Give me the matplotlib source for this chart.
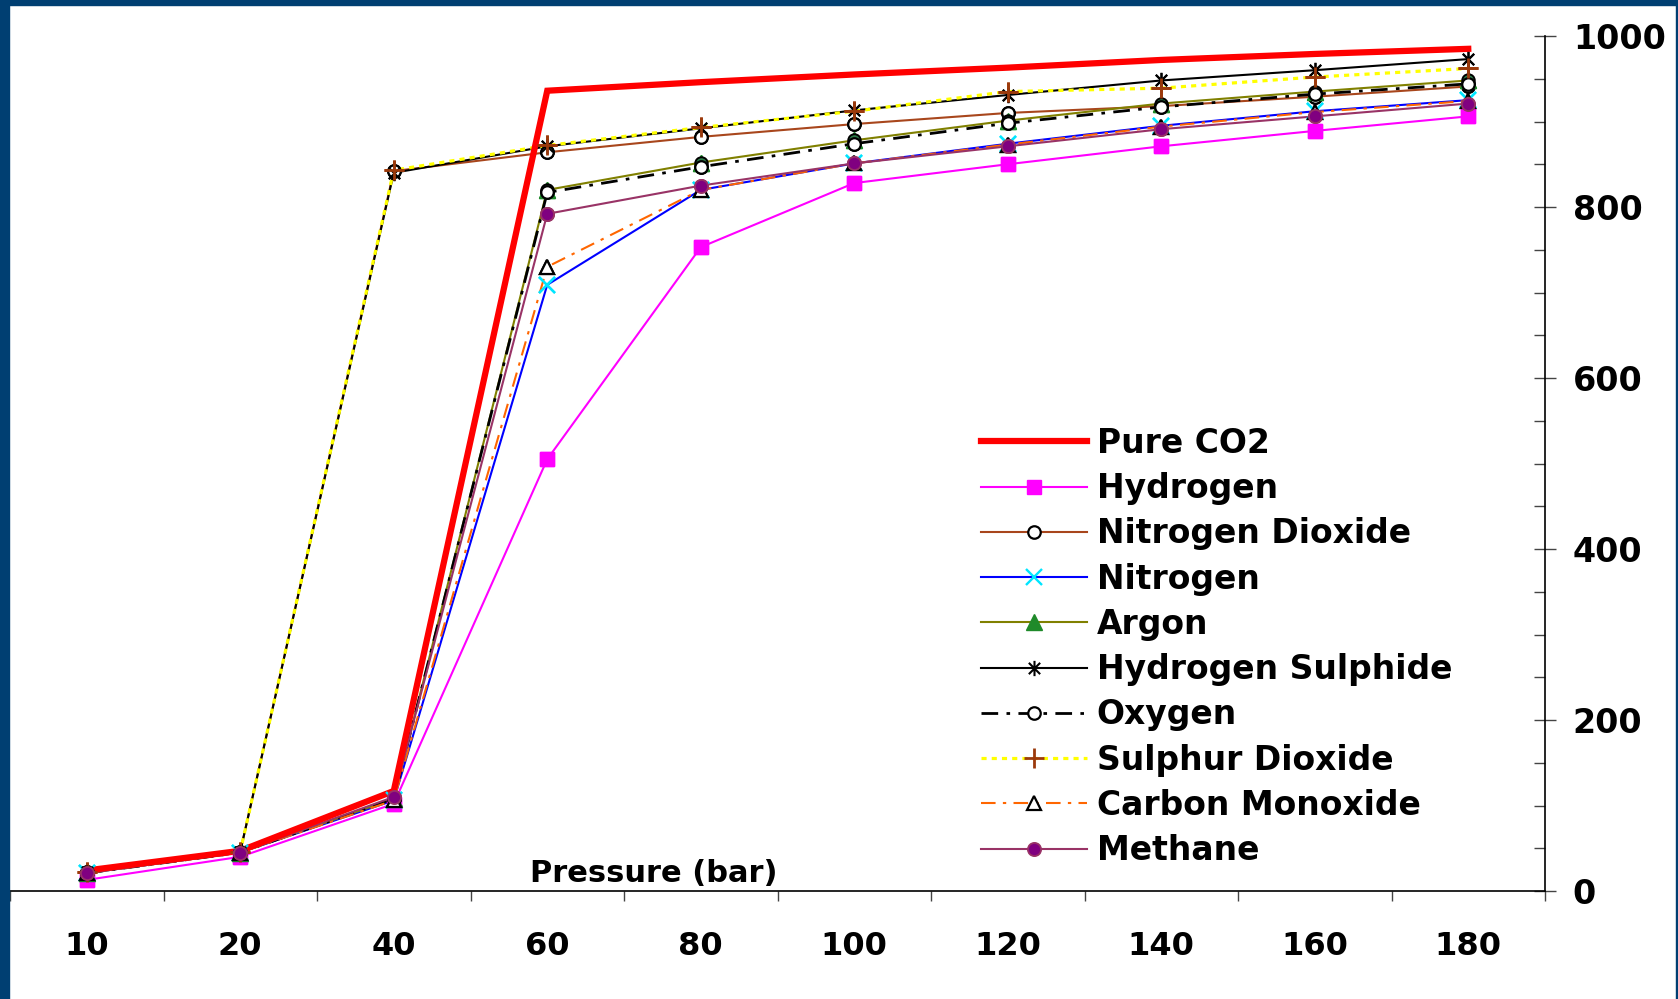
import numpy as np
import matplotlib
matplotlib.use("Agg")
import matplotlib.pyplot as plt
from matplotlib.path import Path
from matplotlib.patches import Rectangle

# ---------------- data ----------------
pressures = ["10", "20", "40", "60", "80", "100", "120", "140", "160", "180"]

pure_co2 = [24, 47, 117, 936, 946, 955, 963, 972, 979, 985]
hydrogen = [13, 40, 102, 505, 753, 828, 850, 871, 889, 906]
nitrogen_dioxide = [22, 46, 842, 864, 882, 897, 910, 918, 929, 941]
nitrogen = [21, 45, 106, 709, 820, 851, 874, 895, 912, 925]
argon = [21, 45, 108, 820, 852, 878, 901, 921, 935, 948]
hydrogen_sulphide = [22, 46, 840, 871, 892, 913, 931, 948, 960, 973]
oxygen = [21, 45, 108, 817, 847, 874, 898, 917, 932, 944]
sulphur_dioxide = [22, 46, 843, 872, 893, 912, 935, 939, 952, 962]
carbon_monoxide = [21, 45, 106, 730, 820, 851, 873, 894, 911, 924]
methane = [21, 45, 110, 792, 825, 851, 871, 891, 906, 921]

y_ticks = [0, 200, 400, 600, 800, 1000]
x_title = "Pressure (bar)"

# ---------------- figure ----------------
W, H = 1678, 999
fig = plt.figure(figsize=(W / 100, H / 100), dpi=100, facecolor="white")
FONT = "DejaVu Sans"
plt.rcParams["font.family"] = [FONT]

# dark-blue frame
blue = "#003f72"
fig.patches.append(Rectangle((0, 0), 9 / W, 1, transform=fig.transFigure, color=blue, zorder=0))
fig.patches.append(Rectangle((0, 1 - 5 / H), 1, 5 / H, transform=fig.transFigure, color=blue, zorder=0))
fig.patches.append(Rectangle((1 - 2 / W, 0), 2 / W, 1, transform=fig.transFigure, color=blue, zorder=0))

left, right = 10 / W, 1545 / W
bottom, top = 1 - 891 / H, 1 - 36 / H
ax = fig.add_axes([left, bottom, right - left, top - bottom])
ax.set_facecolor("none")

x = np.arange(len(pressures))

star = Path([(-1, -1), (1, 1), (-1, 1), (1, -1), (0, -1.35), (0, 1.35)],
            [Path.MOVETO, Path.LINETO, Path.MOVETO, Path.LINETO, Path.MOVETO, Path.LINETO])

lw = 1.5
series = [
    ("Pure CO2", pure_co2, dict(color="#ff0000", lw=4.5, marker=None)),
    ("Hydrogen", hydrogen, dict(color="#ff00ff", lw=lw, marker="s", ms=9.5, mfc="#ff00ff", mec="#ff00ff")),
    ("Nitrogen Dioxide", nitrogen_dioxide, dict(color="#a8461c", lw=lw, marker="o", ms=9, mfc="white", mec="black", mew=1.6)),
    ("Nitrogen", nitrogen, dict(color="#0000ff", lw=lw, marker="x", ms=12, mec="#00e5ff", mew=1.7)),
    ("Argon", argon, dict(color="#808000", lw=lw, marker="^", ms=11, mfc="#1f8a2a", mec="#1f8a2a")),
    ("Hydrogen Sulphide", hydrogen_sulphide, dict(color="black", lw=lw, marker=star, ms=11, mec="black", mew=1.5)),
    ("Oxygen", oxygen, dict(color="black", lw=2.0, dashes=(6, 3, 1.3, 3), marker="o", ms=9, mfc="white", mec="black", mew=1.6)),
    ("Sulphur Dioxide", sulphur_dioxide, dict(color="#ffff00", lw=2.3, dashes=(1.6, 1.6), marker="+", ms=15, mec="#9c3a0c", mew=2.0)),
    ("Carbon Monoxide", carbon_monoxide, dict(color="#ff6600", lw=lw, dashes=(7, 3.5, 1.6, 3.5), marker="^", ms=10, mfc="white", mec="black", mew=1.6)),
    ("Methane", methane, dict(color="#993366", lw=lw, marker="o", ms=9.5, mfc="#800080", mec="#993366", mew=1.3)),
]

handles = []
for name, vals, kw in series:
    z = 3 if name == "Pure CO2" else 2
    (h,) = ax.plot(x, vals, label=name, zorder=z, solid_joinstyle="miter", **kw)
    handles.append(h)
    if kw.get("marker") is not None:
        mk = {k: v for k, v in kw.items() if k not in ("lw", "dashes", "color")}
        ax.plot(x, vals, ls="none", zorder=4, color=kw["color"], **mk)
        if name == "Argon":
            ax.plot(x, vals, ls="none", marker="o", ms=9, mfc="#2e7d4a", mec="black", mew=1.4, zorder=4)

ax.set_xlim(-0.5, len(pressures) - 0.5)
ax.set_ylim(0, 1000)

# spines
for s in ("left", "top"):
    ax.spines[s].set_visible(False)
ax.spines["bottom"].set_color("black")
ax.spines["bottom"].set_linewidth(1.2)
ax.spines["right"].set_color("black")
ax.spines["right"].set_linewidth(1.2)

# x ticks
ax.set_xticks(x)
ax.set_xticklabels(pressures, fontsize=23, fontweight="bold", family=FONT)
ax.set_xticks(np.arange(-0.5, len(pressures), 1), minor=True)
ax.tick_params(axis="x", which="major", length=0, pad=29)
ax.tick_params(axis="x", which="minor", direction="out", length=7, width=1, color="#444444")

# y ticks on right
ax.yaxis.tick_right()
ax.set_yticks(y_ticks)
ax.set_yticklabels([str(v) for v in y_ticks], fontsize=24, fontweight="bold", family=FONT)
ax.set_yticks(np.arange(0, 1001, 50), minor=True)
ax.tick_params(axis="y", which="major", direction="inout", length=16, width=1, color="#444444", pad=12)
ax.tick_params(axis="y", which="minor", direction="in", length=8, width=1, color="#444444")

# x axis title inside plot
ax.text((611 / 1568 * W - 10) / (1545 - 10), 0.004, x_title, transform=ax.transAxes,
        ha="center", va="bottom", fontsize=22, fontweight="bold", family=FONT)

leg = ax.legend(handles=handles, loc="upper left",
                bbox_to_anchor=(981 / W, 1 - 427 / H), bbox_transform=fig.transFigure,
                frameon=False, prop=dict(family=FONT, weight="bold", size=23.8),
                handlelength=3.2, handletextpad=0.3, labelspacing=0.37,
                borderpad=0, borderaxespad=0)

fig.savefig("out.png", dpi=100, facecolor="white")
